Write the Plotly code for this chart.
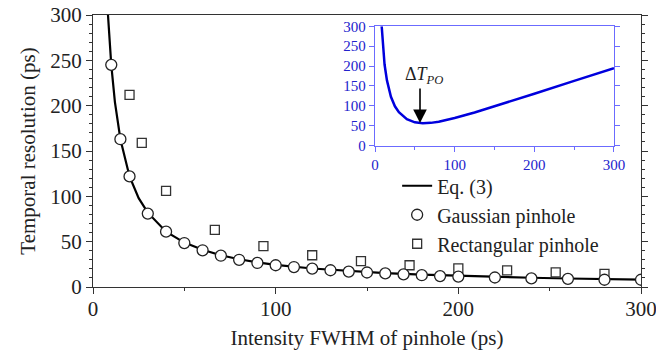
import plotly.graph_objects as go

# Eq. (3) curve (main panel)
eq_x = [8.2, 9, 10, 12, 15, 20, 25, 30, 40, 50, 60, 70, 80, 90, 100, 120, 140, 160, 180, 200, 220, 240, 260, 280, 300]
eq_y = [300, 272, 245, 204, 163, 122, 98, 82, 61, 49, 41, 35, 30.6, 27.2, 24.5, 20.4, 17.5, 15.3, 13.6, 12.2, 11.1, 10.2, 9.4, 8.7, 8.2]

# Gaussian pinhole points
gauss_x = [10, 15, 20, 30, 40, 50, 60, 70, 80, 90, 100, 110, 120, 130, 140, 150, 160, 170, 180, 190, 200, 220, 240, 260, 280, 300]
gauss_y = [245, 163, 122, 81, 61, 48.5, 40.5, 34.5, 30, 26.5, 24, 22, 20.3, 18.5, 17, 16, 15, 14, 13, 12, 11.5, 10.5, 9.5, 9, 8, 8]

# Rectangular pinhole points
rect_x = [20, 26.7, 40, 66.7, 93.3, 120, 146.7, 173.3, 200, 226.7, 253.3, 280]
rect_y = [212, 159, 106, 63, 45, 35, 28.5, 24, 20.5, 18.3, 16.2, 14.5]

# Inset curve
inset_x = [8.4, 10, 12, 15, 20, 25, 30, 40, 50, 60, 70, 80, 100, 125, 150, 175, 200, 250, 300]
inset_y = [300, 245, 204, 164, 123, 99, 84, 66.5, 58.8, 56.5, 57.4, 60.3, 69.5, 83.6, 98.9, 114.6, 130.6, 162.8, 195]

FONT = "Times New Roman, Liberation Serif, serif"
AX = "#333333"
BLUE_LINE = "#6b6bff"
BLUE_TXT = "#2222cc"
BLUE_CURVE = "#0000dd"

fig = go.Figure()
fig.add_trace(go.Scatter(x=eq_x, y=eq_y, mode="lines", name="Eq. (3)", legendrank=1,
                         line=dict(color="black", width=2.2)))
fig.add_trace(go.Scatter(x=rect_x, y=rect_y, mode="markers", name="Rectangular pinhole",
                         legendrank=3,
                         marker=dict(symbol="square-open", size=9, color="#333333",
                                     line=dict(width=1.3, color="#333333"))))
fig.add_trace(go.Scatter(x=gauss_x, y=gauss_y, mode="markers", name="Gaussian pinhole",
                         legendrank=2,
                         marker=dict(symbol="circle", size=11, color="white",
                                     line=dict(width=1.3, color="#222222"))))
fig.add_trace(go.Scatter(x=inset_x, y=inset_y, mode="lines", showlegend=False,
                         line=dict(color=BLUE_CURVE, width=2.5), xaxis="x2", yaxis="y2"))
# dummy traces for right-side tick axes
fig.add_trace(go.Scatter(x=[None], y=[None], showlegend=False, yaxis="y3", hoverinfo="skip"))
fig.add_trace(go.Scatter(x=[None], y=[None], showlegend=False, xaxis="x2", yaxis="y4", hoverinfo="skip"))

fig.update_layout(
    width=656, height=356,
    margin=dict(l=93, r=15, t=15, b=69, autoexpand=False),
    paper_bgcolor="white", plot_bgcolor="white",
    font=dict(family=FONT, size=21, color="#222222"),
    showlegend=True,
    legend=dict(x=0.555, y=0.444, xanchor="left", yanchor="top",
                bgcolor="rgba(0,0,0,0)", font=dict(family=FONT, size=20),
                traceorder="normal", tracegroupgap=0, itemwidth=30),
    xaxis=dict(range=[0, 300], dtick=100, ticks="outside", ticklen=6, tickwidth=1.3,
               tickcolor=AX, showline=True, linecolor=AX, linewidth=1.3, mirror=True,
               showgrid=False, zeroline=False, automargin=False,
               ticklabeloverflow="allow", ticklabelstandoff=-3,
               minor=dict(dtick=50, ticks="outside", ticklen=3, tickcolor=AX, showgrid=False),
               title=dict(text="Intensity FWHM of pinhole (ps)", standoff=9,
                          font=dict(family=FONT, size=21)),
               tickfont=dict(family=FONT, size=21)),
    yaxis=dict(range=[0, 300], dtick=50, ticks="outside", ticklen=6, tickwidth=1.3,
               tickcolor=AX, showline=True, linecolor=AX, linewidth=1.3, mirror=True,
               showgrid=False, zeroline=False, automargin=False,
               ticklabeloverflow="allow",
               minor=dict(dtick=10, ticks="outside", ticklen=3, tickcolor=AX, showgrid=False),
               title=dict(text="Temporal resolution (ps)", standoff=8,
                          font=dict(family=FONT, size=21)),
               tickfont=dict(family=FONT, size=21)),
    yaxis3=dict(overlaying="y", side="right", anchor="x", range=[0, 300], dtick=50,
                ticks="outside", ticklen=6, tickwidth=1.3, tickcolor=AX, automargin=False,
                showticklabels=False, showgrid=False, zeroline=False, showline=False,
                minor=dict(dtick=10, ticks="outside", ticklen=3, tickcolor=AX, showgrid=False)),
    xaxis2=dict(domain=[0.5146, 0.9507], anchor="y2", range=[0, 300], dtick=100,
                ticks="outside", ticklen=5, tickcolor=BLUE_LINE, showline=True,
                linecolor=BLUE_LINE, linewidth=1.3, mirror=True, showgrid=False,
                zeroline=False, automargin=False, ticklabeloverflow="allow",
                tickfont=dict(family=FONT, size=15, color=BLUE_TXT),
                minor=dict(dtick=50, ticks="outside", ticklen=3, tickcolor=BLUE_LINE, showgrid=False)),
    yaxis2=dict(domain=[0.5194, 0.9586], anchor="x2", range=[0, 300], dtick=50,
                ticks="outside", ticklen=5, tickcolor=BLUE_LINE, showline=True,
                linecolor=BLUE_LINE, linewidth=1.3, mirror=True, showgrid=False,
                zeroline=False, automargin=False, ticklabeloverflow="allow",
                tickfont=dict(family=FONT, size=15, color=BLUE_TXT)),
    yaxis4=dict(overlaying="y2", side="right", anchor="x2", range=[0, 300], dtick=50,
                ticks="outside", ticklen=5, tickcolor=BLUE_LINE, showticklabels=False,
                showgrid=False, zeroline=False, showline=False, automargin=False),
    annotations=[
        dict(x=56.5, y=57, xref="x2", yref="y2", text="", showarrow=True,
             ax=0, ay=-36, axref="pixel", ayref="pixel",
             arrowhead=2, arrowsize=1.7, arrowwidth=1.6, arrowcolor="black"),
        dict(x=61, y=176, xref="x2", yref="y2", showarrow=False,
             text="Δ<i>T</i><sub><i>PO</i></sub>",
             font=dict(family=FONT, size=18, color="#222222")),
    ],
)

fig.write_html("out.html", config={"displayModeBar": False},
               post_script="document.body.style.margin='0';document.body.style.overflow='hidden';")
